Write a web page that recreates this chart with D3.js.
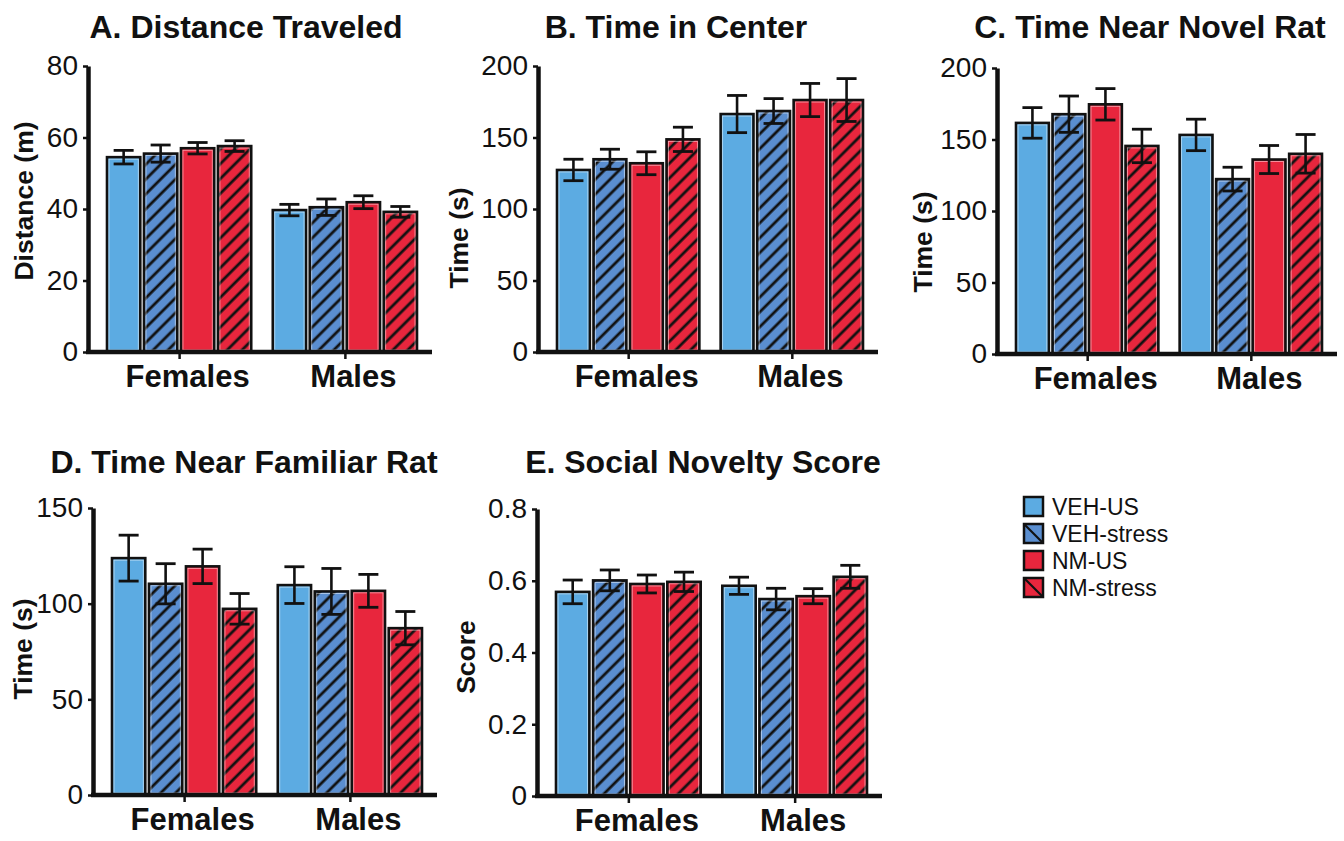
<!DOCTYPE html>
<html>
<head>
<meta charset="utf-8">
<script src="https://cdn.jsdelivr.net/npm/d3@7"></script>
<style>
  body { margin: 0; background: #fff; }
  svg { font-family: "Liberation Sans", Arial, sans-serif; }
</style>
</head>
<body>
<svg id="chart" width="1344" height="841"></svg>
<script>
// ---- data ----
const groups = ['Females', 'Males'];
const series = ['VEH-US', 'VEH-stress', 'NM-US', 'NM-stress'];

const panelTitles = ['A. Distance Traveled', 'B. Time in Center', 'C. Time Near Novel Rat',
                     'D. Time Near Familiar Rat', 'E. Social Novelty Score'];
const yTitles = ['Distance (m)', 'Time (s)', 'Time (s)', 'Time (s)', 'Score'];

const distTicks = [0, 20, 40, 60, 80];
const centerTicks = [0, 50, 100, 150, 200];
const novelTicks = [0, 50, 100, 150, 200];
const familiarTicks = [0, 50, 100, 150];
const scoreTicks = [0, 0.2, 0.4, 0.6, 0.8];

// means [Females, Males] x series
const distMean = [[54.5, 55.5, 57.0, 57.6], [39.7, 40.5, 41.9, 39.2]];
const distErr = [[1.9, 2.4, 1.6, 1.5], [1.6, 2.3, 1.8, 1.5]];

const centerMean = [[127.3, 134.8, 132.0, 148.7], [166.4, 168.5, 176.2, 176.2]];
const centerErr = [[7.5, 7.0, 8.0, 8.5], [13.0, 8.7, 11.6, 15.0]];

const novelMean = [[161.6, 167.7, 174.6, 145.5], [153.2, 122.3, 136.0, 140.0]];
const novelErr = [[10.7, 12.7, 11.0, 11.7], [11.0, 8.3, 9.8, 13.5]];

const familiarMean = [[123.8, 110.4, 119.5, 97.3], [109.7, 106.4, 106.7, 87.2]];
const familiarErr = [[12.0, 10.5, 9.0, 8.0], [9.6, 12.0, 8.6, 8.7]];

const scoreMean = [[0.569, 0.601, 0.591, 0.597], [0.586, 0.549, 0.557, 0.611]];
const scoreErr = [[0.033, 0.029, 0.025, 0.027], [0.024, 0.030, 0.021, 0.032]];

// ---- styling / layout ----
const colors = {'VEH-US': '#5CABE2', 'VEH-stress': '#5A8ED0', 'NM-US': '#E8263D', 'NM-stress': '#E8263D'};
const hatched = {'VEH-US': false, 'VEH-stress': true, 'NM-US': false, 'NM-stress': true};

const panels = [
  {title: 0, mean: distMean, err: distErr, ticks: distTicks, x0: 88, x1: 432, yTop: 66, yBot: 352, titleX: 246, titleY: 38, labX: 33, labY: 201},
  {title: 1, mean: centerMean, err: centerErr, ticks: centerTicks, x0: 538, x1: 878, yTop: 66, yBot: 352, titleX: 676, titleY: 38, labX: 468, labY: 238},
  {title: 2, mean: novelMean, err: novelErr, ticks: novelTicks, x0: 997, x1: 1337, yTop: 68, yBot: 354, titleX: 1150, titleY: 38, labX: 932, labY: 242},
  {title: 3, mean: familiarMean, err: familiarErr, ticks: familiarTicks, x0: 93, x1: 437, yTop: 508, yBot: 795, titleX: 244, titleY: 473, labX: 32, labY: 649},
  {title: 4, mean: scoreMean, err: scoreErr, ticks: scoreTicks, x0: 537, x1: 882, yTop: 509, yBot: 796, titleX: 703, titleY: 473, labX: 475, labY: 657}
];

const svg = d3.select('#chart');
const defs = svg.append('defs');

// diagonal hatch patterns
series.forEach(function(s, i) {
  if (!hatched[s]) return;
  const p = defs.append('pattern')
    .attr('id', 'hatch' + i)
    .attr('patternUnits', 'userSpaceOnUse')
    .attr('width', 10.5).attr('height', 10.5)
    .attr('patternTransform', 'rotate(45)');
  p.append('rect').attr('width', 10.5).attr('height', 10.5).attr('fill', colors[s]);
  p.append('line').attr('x1', 2).attr('x2', 2).attr('y1', 0).attr('y2', 10.5)
    .attr('stroke', '#111').attr('stroke-width', 2.8);
});

function fillOf(s) {
  const i = series.indexOf(s);
  return hatched[s] ? 'url(#hatch' + i + ')' : colors[s];
}

panels.forEach(function(pn) {
  const g = svg.append('g');

  const y = d3.scaleLinear()
    .domain([pn.ticks[0], pn.ticks[pn.ticks.length - 1]])
    .range([pn.yBot, pn.yTop]);

  const xg = d3.scaleBand()
    .domain(groups)
    .range([pn.x0 + 19, pn.x1 - 15])
    .paddingInner(0.13);

  const xs = d3.scaleBand()
    .domain(series)
    .range([0, xg.bandwidth()])
    .paddingInner(0.1);

  // title
  g.append('text')
    .attr('x', pn.titleX).attr('y', pn.titleY)
    .attr('text-anchor', 'middle')
    .style('font-size', '32px').style('font-weight', 'bold').attr('fill', '#111')
    .text(panelTitles[pn.title]);

  // y title
  g.append('text')
    .attr('transform', 'translate(' + pn.labX + ',' + pn.labY + ') rotate(-90)')
    .attr('text-anchor', 'middle')
    .style('font-size', '26.5px').style('font-weight', 'bold').attr('fill', '#111')
    .text(yTitles[pn.title]);

  // bars
  const rows = [];
  groups.forEach(function(gr, gi) {
    series.forEach(function(s, si) {
      rows.push({group: gr, series: s, value: pn.mean[gi][si], err: pn.err[gi][si]});
    });
  });

  const bar = g.selectAll('.bar')
    .data(rows)
    .enter().append('g')
    .attr('class', 'bar')
    .attr('transform', d => 'translate(' + (xg(d.group) + xs(d.series)) + ',0)');

  bar.append('rect')
    .attr('x', 0)
    .attr('y', d => y(d.value))
    .attr('width', xs.bandwidth())
    .attr('height', d => y(0) - y(d.value))
    .attr('fill', d => fillOf(d.series))
    .attr('stroke', '#111')
    .attr('stroke-width', 2.6);

  // thin white inner edge
  bar.append('rect')
    .attr('x', 2)
    .attr('y', d => y(d.value) + 2)
    .attr('width', xs.bandwidth() - 4)
    .attr('height', d => Math.max(0, y(0) - y(d.value) - 4))
    .attr('fill', 'none')
    .attr('stroke', '#fff')
    .attr('stroke-opacity', 0.6)
    .attr('stroke-width', 0.8);

  // error bars
  const cx = xs.bandwidth() / 2;
  bar.append('line')
    .attr('x1', cx).attr('x2', cx)
    .attr('y1', d => y(d.value + d.err))
    .attr('y2', d => y(d.value - d.err))
    .attr('stroke', '#111').attr('stroke-width', 2.6);
  bar.append('line')
    .attr('x1', cx - 10).attr('x2', cx + 10)
    .attr('y1', d => y(d.value + d.err)).attr('y2', d => y(d.value + d.err))
    .attr('stroke', '#111').attr('stroke-width', 2.8);
  bar.append('line')
    .attr('x1', cx - 10).attr('x2', cx + 10)
    .attr('y1', d => y(d.value - d.err)).attr('y2', d => y(d.value - d.err))
    .attr('stroke', '#111').attr('stroke-width', 2.8);

  // y axis
  const yAxis = d3.axisLeft(y)
    .tickValues(pn.ticks)
    .tickFormat(d3.format('~g'))
    .tickSize(5)
    .tickSizeOuter(0)
    .tickPadding(5);
  const ya = g.append('g')
    .attr('transform', 'translate(' + pn.x0 + ',0)')
    .call(yAxis);
  ya.select('.domain').attr('stroke', '#111').attr('stroke-width', 4.5);
  ya.selectAll('.tick line').attr('stroke', '#111').attr('stroke-width', 2.5);
  ya.selectAll('.tick text')
    .style('font-family', '"Liberation Sans", Arial, sans-serif')
    .style('font-size', '28px').attr('fill', '#111');

  // x axis
  g.append('line')
    .attr('x1', pn.x0 - 2).attr('x2', pn.x1)
    .attr('y1', pn.yBot).attr('y2', pn.yBot)
    .attr('stroke', '#111').attr('stroke-width', 4.5);

  const xAxis = d3.axisBottom(d3.scalePoint().domain(groups)
      .range([xg('Females') + xg.bandwidth() / 2, xg('Males') + xg.bandwidth() / 2]))
    .tickSize(7)
    .tickSizeOuter(0)
    .tickPadding(6);
  const xa = g.append('g')
    .attr('transform', 'translate(0,' + pn.yBot + ')')
    .call(xAxis);
  xa.select('.domain').remove();
  xa.selectAll('.tick line').attr('stroke', '#111').attr('stroke-width', 2.5);
  xa.selectAll('.tick text')
    .style('font-family', '"Liberation Sans", Arial, sans-serif')
    .style('font-size', '31px').style('font-weight', 'bold').attr('fill', '#111')
    .attr('dx', 8).attr('dy', '0.72em');
});

// legend
const legend = svg.append('g').attr('transform', 'translate(1023,496)');
const li = legend.selectAll('.li')
  .data(series)
  .enter().append('g')
  .attr('class', 'li')
  .attr('transform', (d, i) => 'translate(0,' + i * 27 + ')');

li.append('rect')
  .attr('x', 1).attr('y', 1)
  .attr('width', 19).attr('height', 19)
  .attr('fill', d => colors[d])
  .attr('stroke', '#111').attr('stroke-width', 2.5);
li.filter(d => hatched[d]).append('line')
  .attr('x1', 2).attr('y1', 2).attr('x2', 19).attr('y2', 19)
  .attr('stroke', '#111').attr('stroke-width', 2.2);
li.append('text')
  .attr('x', 29).attr('y', 11)
  .attr('dy', '0.36em')
  .style('font-size', '23px').attr('fill', '#111')
  .text(d => d);
</script>
</body>
</html>
